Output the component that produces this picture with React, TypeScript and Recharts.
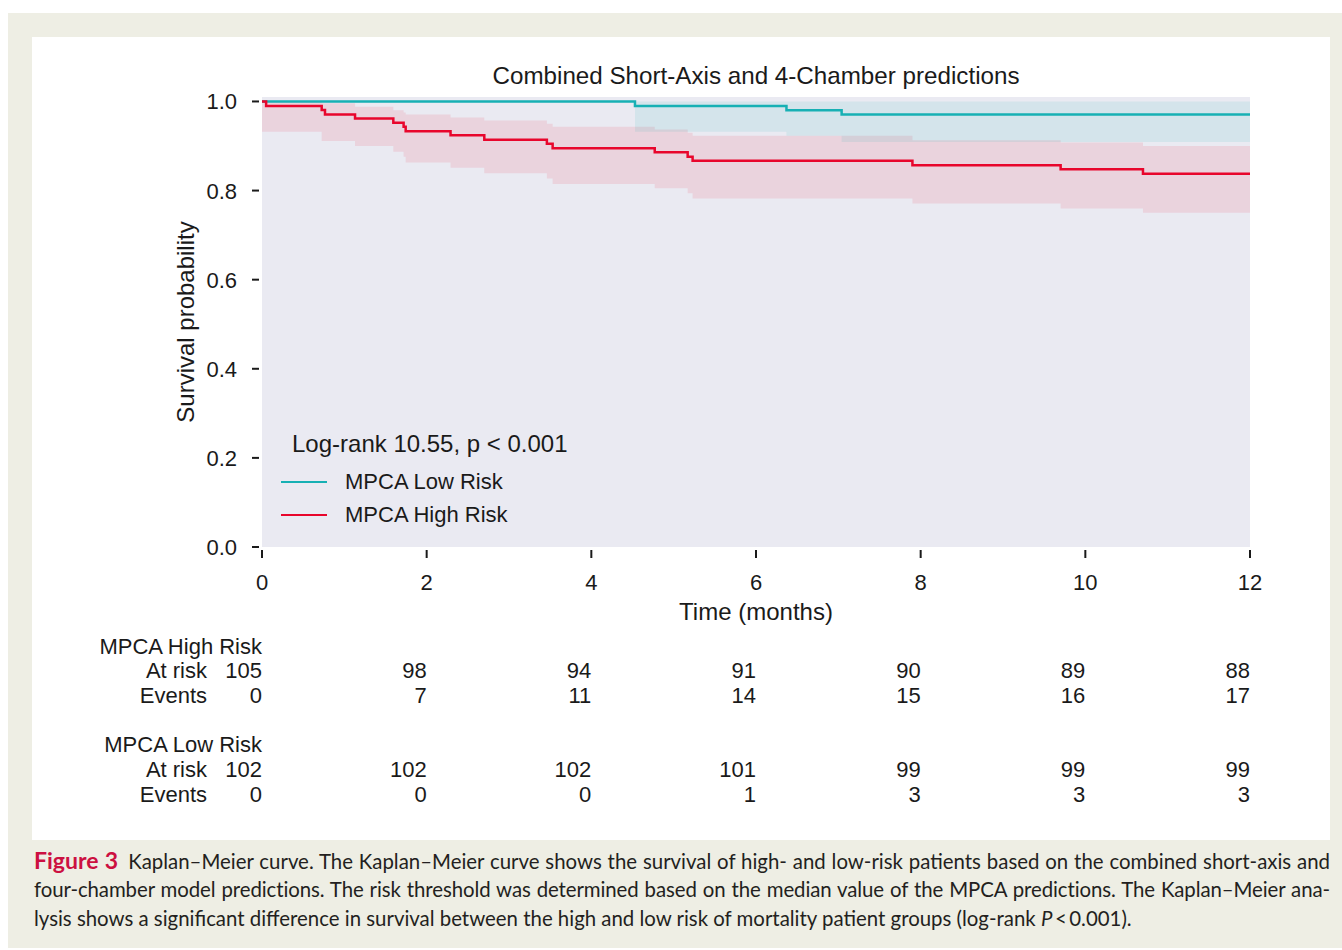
import React from "react"
import {
  ComposedChart,
  Line,
  Area,
  XAxis,
  YAxis,
  CartesianGrid,
  Legend,
  Label,
} from "recharts"

// ── Data ───────────────────────────────────────────────────────────────────

const TICKS_X = [0, 2, 4, 6, 8, 10, 12]
const TICKS_Y = [0, 0.2, 0.4, 0.6, 0.8, 1.0]

// MPCA High Risk: step times (months), survival and 95% CI
const HIGH_TIME = [0, 0.05, 0.725, 0.765, 1.13, 1.595, 1.72, 1.745, 2.29, 2.7, 3.46, 3.53, 4.77, 5.17, 5.23, 7.9, 9.7, 10.7, 12]
const HIGH_SURV = [1, 0.99, 0.981, 0.971, 0.962, 0.952, 0.943, 0.933, 0.924, 0.914, 0.905, 0.895, 0.886, 0.876, 0.867, 0.857, 0.848, 0.838, 0.838]
const HIGH_LO = [0.932, 0.932, 0.911, 0.911, 0.9, 0.887, 0.876, 0.863, 0.851, 0.839, 0.827, 0.815, 0.805, 0.794, 0.782, 0.771, 0.76, 0.75, 0.75]
const HIGH_HI = [1, 1, 0.996, 0.996, 0.988, 0.98, 0.975, 0.971, 0.964, 0.957, 0.95, 0.943, 0.937, 0.93, 0.923, 0.913, 0.908, 0.9, 0.9]

// MPCA Low Risk
const LOW_TIME = [0, 4.53, 6.37, 7.04, 12]
const LOW_SURV = [1, 0.99, 0.98, 0.971, 0.971]
const LOW_LO = [1, 0.932, 0.923, 0.909, 0.909]
const LOW_HI = [1, 1, 1, 1, 1]

// Numbers at risk table
const HIGH_AT_RISK = [105, 98, 94, 91, 90, 89, 88]
const HIGH_EVENTS = [0, 7, 11, 14, 15, 16, 17]
const LOW_AT_RISK = [102, 102, 102, 101, 99, 99, 99]
const LOW_EVENTS = [0, 0, 0, 1, 3, 3, 3]

const HIGH_ROWS = HIGH_TIME.map((t, i) => ({ t, s: HIGH_SURV[i], band: [HIGH_LO[i], HIGH_HI[i]] }))
const LOW_ROWS = LOW_TIME.map((t, i) => ({ t, s: LOW_SURV[i], band: [LOW_LO[i], LOW_HI[i]] }))

// ── Design tokens ──────────────────────────────────────────────────────────

const FONT = '"Liberation Sans", Arial, sans-serif'
const INK = "#1a1a1a"
const TEAL = "#17b0b4"
const RED = "#e8062c"
const PLOT_BG = "#eaeaf2"
const FRAME = "#eeeee4"

const SERIES = [
  { name: "MPCA Low Risk", color: TEAL },
  { name: "MPCA High Risk", color: RED },
]

// ── Axis pieces ────────────────────────────────────────────────────────────

function YTick({ x, y, payload }: any) {
  return (
    <g>
      <line x1={x - 10} x2={x - 3} y1={y} y2={y} stroke={INK} strokeWidth={2} />
      <text x={x - 25} y={y + 8} textAnchor="end" fontSize={22} fontFamily={FONT} fill={INK}>
        {Number(payload.value).toFixed(1)}
      </text>
    </g>
  )
}

// x tick also carries the numbers-at-risk table under each time point
function XTick({ x, y, payload }: any) {
  const i = TICKS_X.indexOf(payload.value)
  const cell = (dy: number, v: React.ReactNode, dx = 0) => (
    <text x={x + dx} y={y + dy} textAnchor="end" fontSize={22} fontFamily={FONT} fill={INK}>
      {v}
    </text>
  )
  return (
    <g>
      <line x1={x} x2={x} y1={y + 3} y2={y + 11} stroke={INK} strokeWidth={2} />
      <text x={x} y={y + 43} textAnchor="middle" fontSize={22} fontFamily={FONT} fill={INK}>
        {payload.value}
      </text>
      {cell(131, HIGH_AT_RISK[i])}
      {cell(156, HIGH_EVENTS[i])}
      {cell(230, LOW_AT_RISK[i])}
      {cell(255, LOW_EVENTS[i])}
      {i === 0 && (
        <>
          {cell(107, "MPCA High Risk")}
          {cell(131, "At risk", -55)}
          {cell(156, "Events", -55)}
          {cell(205, "MPCA Low Risk")}
          {cell(230, "At risk", -55)}
          {cell(255, "Events", -55)}
        </>
      )}
    </g>
  )
}

function YLabel({ viewBox }: any) {
  const cx = viewBox.x + viewBox.width - 77
  const cy = viewBox.y + viewBox.height / 2
  return (
    <text
      x={cx}
      y={cy}
      transform={`rotate(-90 ${cx} ${cy})`}
      textAnchor="middle"
      dominantBaseline="central"
      fontSize={24}
      fontFamily={FONT}
      fill={INK}
    >
      Survival probability
    </text>
  )
}

function XLabel({ viewBox }: any) {
  return (
    <text
      x={viewBox.x + viewBox.width / 2}
      y={viewBox.y + 73}
      textAnchor="middle"
      fontSize={24}
      fontFamily={FONT}
      fill={INK}
    >
      Time (months)
    </text>
  )
}

function KMLegend() {
  return (
    <div style={{ fontFamily: FONT, color: INK }}>
      <div style={{ fontSize: 24, lineHeight: "30px", marginLeft: 11, whiteSpace: "nowrap" }}>
        Log-rank 10.55, p &lt; 0.001
      </div>
      <div style={{ height: 6 }} />
      {SERIES.map((s) => (
        <div key={s.name} style={{ display: "flex", alignItems: "center", height: 33 }}>
          <span style={{ width: 46, borderTop: `2.5px solid ${s.color}`, marginRight: 18 }} />
          <span style={{ fontSize: 22, whiteSpace: "nowrap" }}>{s.name}</span>
        </div>
      ))}
    </div>
  )
}

// ── Chart ──────────────────────────────────────────────────────────────────

function KMChart() {
  return (
    <ComposedChart width={1342} height={950} margin={{ top: 97, right: 92, left: 202, bottom: 373 }}>
      <CartesianGrid fill={PLOT_BG} horizontal={false} vertical={false} />
      <XAxis
        type="number"
        dataKey="t"
        domain={[0, 12]}
        ticks={TICKS_X}
        interval={0}
        height={30}
        axisLine={false}
        tickLine={false}
        tickSize={0}
        tickMargin={0}
        tick={(p: any) => <XTick {...p} />}
      >
        <Label content={(p: any) => <XLabel {...p} />} />
      </XAxis>
      <YAxis
        type="number"
        domain={[0, 1.01]}
        ticks={TICKS_Y}
        interval={0}
        width={60}
        axisLine={false}
        tickLine={false}
        tickSize={0}
        tickMargin={0}
        allowDataOverflow
        tick={(p: any) => <YTick {...p} />}
      >
        <Label content={(p: any) => <YLabel {...p} />} />
      </YAxis>
      <Area
        data={HIGH_ROWS}
        dataKey="band"
        type="stepAfter"
        fill={RED}
        fillOpacity={0.1}
        stroke="none"
        legendType="none"
        dot={false}
        activeDot={false}
        isAnimationActive={false}
      />
      <Area
        data={LOW_ROWS}
        dataKey="band"
        type="stepAfter"
        fill={TEAL}
        fillOpacity={0.1}
        stroke="none"
        legendType="none"
        dot={false}
        activeDot={false}
        isAnimationActive={false}
      />
      <Line
        data={LOW_ROWS}
        dataKey="s"
        name="MPCA Low Risk"
        type="stepAfter"
        stroke={TEAL}
        strokeWidth={2.5}
        dot={false}
        activeDot={false}
        isAnimationActive={false}
      />
      <Line
        data={HIGH_ROWS}
        dataKey="s"
        name="MPCA High Risk"
        type="stepAfter"
        stroke={RED}
        strokeWidth={2.5}
        dot={false}
        activeDot={false}
        isAnimationActive={false}
      />
      <Legend
        layout="horizontal"
        verticalAlign="middle"
        align="center"
        content={() => <KMLegend />}
        wrapperStyle={{ left: 281, top: 429, width: "auto", height: "auto" }}
      />
    </ComposedChart>
  )
}

// ── Page ───────────────────────────────────────────────────────────────────

const CAPTION_LINES = [
  "Kaplan–Meier curve. The Kaplan–Meier curve shows the survival of high- and low-risk patients based on the combined short-axis and",
  "four-chamber model predictions. The risk threshold was determined based on the median value of the MPCA predictions. The Kaplan–Meier ana-",
]

export default function App() {
  const lineStyle: React.CSSProperties = {
    whiteSpace: "nowrap",
    textAlign: "justify",
    textAlignLast: "justify",
    height: 29,
  }
  return (
    <div style={{ position: "absolute", left: 0, top: 0, width: 1342, height: 950, background: "#fff", overflow: "hidden" }}>
      <div style={{ position: "absolute", left: 8, top: 13, width: 1334, height: 935, background: FRAME }} />
      <div style={{ position: "absolute", left: 32, top: 37, width: 1298, height: 803, background: "#fff" }} />
      <div
        style={{
          position: "absolute",
          left: 262,
          top: 61,
          width: 988,
          textAlign: "center",
          fontFamily: FONT,
          fontSize: 24.2,
          lineHeight: "30px",
          color: INK,
        }}
      >
        Combined Short-Axis and 4-Chamber predictions
      </div>
      <div style={{ position: "absolute", left: 0, top: 0 }}>
        <KMChart />
      </div>
      <div
        style={{
          position: "absolute",
          left: 34,
          top: 846,
          width: 1296,
          fontFamily: "Lato, sans-serif",
          fontSize: 20.4,
          lineHeight: "29px",
          color: "#231f20",
        }}
      >
        <div style={lineStyle}>
          <span style={{ color: "#cc1041", fontWeight: 700, fontSize: 23 }}>Figure 3</span>
          {"\u2002"}
          {CAPTION_LINES[0]}
        </div>
        <div style={{ ...lineStyle, letterSpacing: -0.08 }}>{CAPTION_LINES[1]}</div>
        <div style={{ whiteSpace: "nowrap", height: 29 }}>
          lysis shows a significant difference in survival between the high and low risk of mortality patient groups (log-rank{" "}
          <i>P</i>
          {"\u2009<\u2009"}0.001).
        </div>
      </div>
    </div>
  )
}
